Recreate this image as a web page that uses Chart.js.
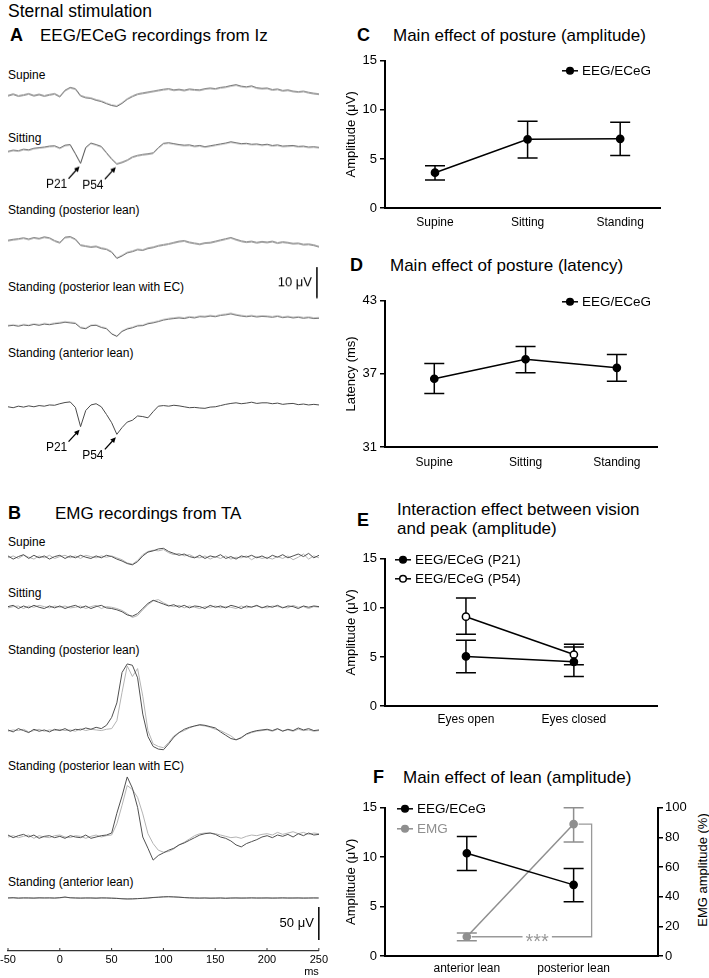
<!DOCTYPE html>
<html>
<head>
<meta charset="utf-8">
<title>Sternal stimulation</title>
<script src="https://cdn.jsdelivr.net/npm/chart.js@4.4.1/dist/chart.umd.min.js"></script>
<style>
  html, body { margin: 0; padding: 0; background: #fff; }
  body { position: relative; width: 709px; height: 978px; overflow: hidden;
         font-family: "Liberation Sans", Arial, sans-serif; color: #000; }
  .box { position: absolute; }
  .t { position: absolute; white-space: nowrap; line-height: 1; }
  .big { font-size: 17px; }
  .letter { font-size: 18px; font-weight: bold; }
  .lab { font-size: 12px; }
</style>
</head>
<body>
<div class="t" style="left:8px;top:3px;font-size:17.5px">Sternal stimulation</div>

<div class="t letter" style="left:10px;top:26px">A</div>
<div class="t big" style="left:40px;top:27px">EEG/ECeG recordings from Iz</div>
<div class="t lab" style="left:8px;top:69px">Supine</div>
<div class="t lab" style="left:8px;top:132px">Sitting</div>
<div class="t lab" style="left:8px;top:204px">Standing (posterior lean)</div>
<div class="t lab" style="left:8px;top:281px">Standing (posterior lean with EC)</div>
<div class="t lab" style="left:8px;top:347px">Standing (anterior lean)</div>

<div class="t letter" style="left:8px;top:504px">B</div>
<div class="t big" style="left:55px;top:505px">EMG recordings from TA</div>
<div class="t lab" style="left:8px;top:536px">Supine</div>
<div class="t lab" style="left:8px;top:587px">Sitting</div>
<div class="t lab" style="left:8px;top:644px">Standing (posterior lean)</div>
<div class="t lab" style="left:8px;top:760px">Standing (posterior lean with EC)</div>
<div class="t lab" style="left:8px;top:876px">Standing (anterior lean)</div>

<div class="t letter" style="left:357px;top:26px">C</div>
<div class="t big" style="left:393px;top:26.5px">Main effect of posture (amplitude)</div>
<div class="t letter" style="left:350px;top:256px">D</div>
<div class="t big" style="left:390px;top:256.5px">Main effect of posture (latency)</div>
<div class="t letter" style="left:357px;top:511px">E</div>
<div class="t big" style="left:397px;top:499.5px;line-height:19px">Interaction effect between vision<br>and peak (amplitude)</div>
<div class="t letter" style="left:373px;top:768px">F</div>
<div class="t big" style="left:403px;top:768.5px">Main effect of lean (amplitude)</div>
<div class="t" style="left:702px;top:870px;font-size:13px;transform:translate(-50%,-50%) rotate(-90deg)">EMG amplitude (%)</div>

<script>
// ---- trace data (A: EEG/ECeG at Iz, µV, positive plotted downward; B: EMG at TA, µV) ----
const traceTimes = [-50,-45,-40,-35,-30,-25,-20,-15,-10,-5,0,5,10,15,20,25,30,35,40,45,
  50,55,60,65,70,75,80,85,90,95,100,105,110,115,120,125,130,135,140,145,
  150,155,160,165,170,175,180,185,190,195,200,205,210,215,220,225,230,235,240,245,250];

const eegSupine = [0.2,-0.3,0.3,0,-0.4,0.2,-0.2,0.3,-0.1,-0.4,
  0.5,-1.5,-2.4,-2.0,0.2,0.8,1.0,1.6,2.0,2.7,
  3.3,3.6,2.6,1.3,0.4,-0.3,-0.6,-0.9,-1.2,-1.5,
  -1.8,-2.0,-1.6,-1.8,-1.5,-1.9,-1.7,-1.6,-2.0,-2.2,
  -2.0,-2.4,-2.6,-3.0,-3.3,-2.8,-2.6,-2.9,-2.3,-2.1,
  -2.2,-1.7,-1.9,-1.4,-1.6,-1.2,-1.0,-1.2,-0.8,-0.5,-0.3];
const eegSitting = [0.8,0.4,0.6,0.1,0.3,-0.2,-0.4,-0.6,-0.9,-1.0,
  -0.3,-1.2,-1.4,1.5,4.6,-0.5,-1.9,-1.4,-0.8,1.2,
  3.2,4.8,4.3,3.6,2.6,2.1,1.8,1.6,1.3,-0.4,
  -1.8,-2.0,-1.7,-1.4,-1.2,-1.3,-0.9,-1.1,-0.7,-1.0,
  -1.3,-1.6,-1.9,-2.3,-2.0,-1.7,-1.8,-1.5,-1.6,-1.3,
  -1.5,-1.1,-1.3,-0.9,-1.0,-1.1,-0.8,-0.9,-0.6,-0.7,-0.5];
const eegPosterior = [-0.5,-0.8,-1.0,-1.3,-0.9,-1.4,-1.1,-1.6,-1.3,-0.4,
  0.2,-1.5,-1.7,-0.9,1.0,1.3,1.6,1.4,2.0,2.3,
  3.2,5.2,4.4,3.4,3.0,2.4,2.6,2.0,1.7,1.2,
  0.9,0.6,0.2,-0.2,-0.4,0.1,0.4,0.7,0.3,0.2,
  -0.2,-0.6,-1.0,-1.4,-0.8,-0.3,0.0,-0.2,0.2,-0.1,
  0.1,-0.2,0.3,0.0,0.2,0.5,0.4,0.8,0.7,1.0,1.5];
const eegPosteriorEC = [0.4,0.2,0.5,0.1,0.3,-0.1,0.2,-0.2,0.0,-0.3,
  -0.5,-0.8,-0.6,-0.4,1.0,1.3,0.3,0.2,0.9,1.3,
  3.0,3.8,2.2,1.4,1.0,0.4,0.3,-0.3,-0.6,-1.0,
  -1.5,-1.8,-2.0,-2.2,-2.0,-2.4,-2.2,-2.6,-2.5,-2.8,
  -2.6,-3.0,-3.2,-3.5,-3.1,-2.8,-2.6,-2.8,-2.5,-2.7,
  -2.6,-2.4,-2.7,-2.3,-2.5,-2.2,-2.4,-2.1,-2.3,-2.0,-2.1];
const eegAnterior = [0.0,0.3,-0.2,0.1,-0.3,0.0,-0.4,-0.2,-0.6,-0.5,
  -1.0,-1.4,-1.6,0.2,6.5,1.2,-0.6,-1.0,0.0,2.5,
  5.2,9.0,6.8,5.0,4.4,3.0,3.2,3.6,1.6,-0.2,
  -0.4,-0.2,-0.5,-0.3,0.0,0.3,0.2,0.4,0.5,0.1,
  0.0,-0.4,-0.8,-1.1,-1.3,-1.0,-1.2,-1.5,-1.1,-1.3,
  -1.3,-1.0,-1.2,-0.8,-1.0,-1.1,-0.7,-0.9,-0.6,-0.8,-0.6];

const emgSupineA = [2,-3,1,4,-2,3,-1,2,-3,1, 3,-2,2,-1,3,0,-2,2,-1,3,
  1,-3,-6,-10,-12,-7,2,8,10,13, 14,9,6,3,5,1,-1,3,-2,2,
  0,4,-2,1,-3,2,0,3,-1,2, -2,3,0,4,-1,2,5,1,6,-1, 3];
const emgSupineB = [-1,2,-2,3,0,-3,2,-1,3,-2, 1,3,-1,2,-2,3,1,-1,2,0,
  2,-1,-4,-9,-11,-5,4,9,11,10, 12,7,4,6,2,4,0,-1,2,-3,
  1,-2,2,-3,0,-1,2,-4,1,-2, 0,-3,1,-2,2,-4,0,5,-3,2, -1];
const emgSittingA = [1,3,-2,2,-1,3,0,-2,2,-1, 2,-2,1,3,-1,2,-2,1,3,-1,
  -2,-4,-7,-12,-14,-10,-2,6,11,8, 5,2,4,0,3,-1,2,1,-2,3,
  0,2,-1,3,1,-2,2,0,3,-1, 2,0,3,-1,2,1,-2,2,0,2, 1];
const emgSittingB = [-1,1,2,-2,2,0,3,1,-1,2, 0,2,-1,0,2,-2,1,3,-2,1,
  0,-2,-5,-10,-16,-13,-4,4,10,12, 7,3,1,3,-1,2,0,-2,1,0,
  2,-1,1,0,-2,2,-1,1,2,0, -1,2,1,0,-1,3,0,1,-2,1, 0];
const emgPosteriorA = [1,-2,3,0,-3,2,-1,1,-2,2, 0,3,-1,2,1,4,2,5,3,8,
  20,42,88,101,99,80,25,-9,-24,-28, -29,-20,-10,-3,2,5,7,9,8,6,
  4,-2,-7,-12,-14,-11,-5,-2,0,1, 2,0,3,-1,2,0,4,1,3,0, 1];
const emgPosteriorB = [-1,1,0,2,-2,0,2,-1,1,0, 2,0,1,-1,3,0,2,1,0,2,
  3,15,58,98,82,94,52,0,-20,-24, -26,-18,-8,-3,0,4,7,8,7,5,
  2,0,-4,-8,-14,-10,-6,-3,-1,0, 1,-1,2,0,1,-1,2,0,1,-1, 0];
const emgPosteriorECA = [3,-1,2,4,0,3,-2,1,2,-1, 1,-2,2,0,-1,3,-2,0,2,3,
  6,36,62,91,74,45,0,-17,-35,-28, -24,-20,-17,-12,-9,-5,-1,3,5,6,
  4,0,-2,-6,-12,-15,-10,-7,-4,0, 2,-1,3,1,4,0,5,2,6,3, 4];
const emgPosteriorECB = [0,2,-1,1,3,-2,2,0,-1,2, 3,0,-1,2,1,-2,1,3,0,2,
  3,20,48,78,72,60,35,5,-10,-20, -23,-22,-18,-12,-8,-3,2,5,6,6,
  5,3,1,-1,0,-2,1,3,2,4, 5,3,7,4,6,8,5,7,4,6, 5];
const emgAnteriorA = [0,0.5,-0.3,0.2,0,-0.2,0.3,0,0.2,-0.2, 0.5,1.5,0.3,0,-0.2,0.1,0,-0.3,0.2,0,
  -0.3,-0.6,-1.2,-1.5,-1.3,-1.0,-0.5,0,0.8,1.2, 1.8,2.0,1.6,1.2,0.6,0.2,0,-0.2,0,-0.3,
  -0.2,0,-0.4,-0.1,0.1,-0.2,0,0.2,-0.1,0, 0.1,-0.2,0,0.2,-0.1,0,0.1,-0.2,0,0.1, 0];
const emgAnteriorB = [0.3,0,0.2,-0.2,0.3,0,-0.1,0.3,0,0.2, 0.2,1.0,0.5,0.2,0,-0.2,0.2,0,-0.1,0.2,
  0,-0.4,-0.9,-1.3,-1.4,-0.8,-0.6,-0.2,0.5,1.0, 1.5,1.8,1.8,1.4,0.8,0.4,0.1,0,0.2,-0.1,
  0,0.2,-0.2,0.1,0,0.2,-0.1,0,0.2,-0.1, 0,0.1,-0.1,0,0.2,-0.1,0,0.1,-0.1,0, 0.1];

// ---- summary data (C-F) ----
const postureLabels = ['Supine', 'Sitting', 'Standing'];
const ampMean = [3.6, 7.0, 7.05];
const ampLo = [2.85, 5.1, 5.35];
const ampHi = [4.3, 8.85, 8.75];

const latMean = [36.6, 38.2, 37.5];
const latLo = [35.4, 37.1, 36.4];
const latHi = [37.85, 39.25, 38.6];

const visionLabels = ['Eyes open', 'Eyes closed'];
const p21Mean = [5.05, 4.5];
const p21Lo = [3.4, 3.0];
const p21Hi = [6.7, 6.0];
const p54Mean = [9.1, 5.25];
const p54Lo = [7.3, 4.2];
const p54Hi = [11.0, 6.3];

const leanLabels = ['anterior lean', 'posterior lean'];
const eegLeanMean = [10.4, 7.2];
const eegLeanLo = [8.65, 5.5];
const eegLeanHi = [12.1, 8.85];
const emgLeanMean = [13, 89];
const emgLeanLo = [10.3, 77];
const emgLeanHi = [15.6, 100];

const FONT = '"Liberation Sans", Arial, sans-serif';
Chart.defaults.font.family = FONT;
Chart.defaults.color = '#000';
Chart.defaults.animation = false;

function makeCanvas(left, top, width, height) {
  const box = document.createElement('div');
  box.className = 'box';
  box.style.cssText = 'left:' + left + 'px;top:' + top + 'px;width:' + width + 'px;height:' + height + 'px';
  const c = document.createElement('canvas');
  box.appendChild(c);
  document.body.appendChild(box);
  return c;
}

// peak arrows, scale bars and inward time ticks on the traces
const traceMarks = {
  id: 'traceMarks',
  afterDatasetsDraw(chart, args, opts) {
    const ctx = chart.ctx, xs = chart.scales.x, ys = chart.scales.y;
    const meta = chart.getDatasetMeta(0);
    ctx.save();
    ctx.fillStyle = '#000';
    ctx.strokeStyle = '#000';
    (opts.peaks || []).forEach(p => {
      const pt = meta.data[traceTimes.indexOf(p.t)];
      const tipX = pt.x - 1, tipY = pt.y + 3;
      const tailX = tipX - 11, tailY = tipY + 12;
      const ang = Math.atan2(tipY - tailY, tipX - tailX);
      ctx.lineWidth = 1.3;
      ctx.beginPath();
      ctx.moveTo(tailX, tailY);
      ctx.lineTo(tipX - 3 * Math.cos(ang), tipY - 3 * Math.sin(ang));
      ctx.stroke();
      ctx.beginPath();
      ctx.moveTo(tipX, tipY);
      ctx.lineTo(tipX - 6 * Math.cos(ang - 0.45), tipY - 6 * Math.sin(ang - 0.45));
      ctx.lineTo(tipX - 6 * Math.cos(ang + 0.45), tipY - 6 * Math.sin(ang + 0.45));
      ctx.closePath();
      ctx.fill();
      ctx.font = '12px ' + FONT;
      ctx.textAlign = 'center';
      ctx.textBaseline = 'middle';
      ctx.fillText(p.label, tipX - 23, tipY + 18);
    });
    if (opts.bar) {
      const b = opts.bar;
      const x = xs.getPixelForValue(b.t);
      const y1 = ys.getPixelForValue(b.from), y2 = ys.getPixelForValue(b.from + b.size);
      ctx.lineWidth = 1.5;
      ctx.beginPath();
      ctx.moveTo(x, y1);
      ctx.lineTo(x, y2);
      ctx.stroke();
      ctx.font = '13px ' + FONT;
      ctx.textAlign = 'right';
      ctx.textBaseline = 'middle';
      ctx.fillText(b.text, x - 5, (y1 + y2) / 2);
    }
    if (opts.innerTicks && xs.options.display) {
      const yb = chart.chartArea.bottom;
      ctx.strokeStyle = '#333';
      ctx.lineWidth = 1;
      ctx.beginPath();
      xs.ticks.forEach(t => {
        const x = xs.getPixelForValue(t.value);
        ctx.moveTo(x, yb);
        ctx.lineTo(x, yb - 3);
      });
      ctx.stroke();
    }
    ctx.restore();
  }
};

const timeAxis = {
  type: 'linear', min: -50, max: 250,
  ticks: { stepSize: 50, font: { size: 11 }, padding: 2, maxRotation: 0, autoSkip: false, color: '#000' },
  grid: { display: false, drawTicks: false },
  border: { display: true, color: '#333', width: 1.3 },
  title: { display: true, text: 'ms', align: 'end', font: { size: 11 }, padding: 0, color: '#000' },
  afterFit: s => { s.height = 28; }
};

function traceChart(sets, cfg) {
  const ppu = cfg.ppu;
  const areaH = (cfg.max - cfg.min) * ppu;
  const top = cfg.reverse ? cfg.base + cfg.min * ppu : cfg.base - cfg.max * ppu;
  const canvas = makeCanvas(-6, top, 336, areaH + (cfg.axis ? 28 : 0));
  new Chart(canvas, {
    type: 'line',
    data: {
      datasets: sets.map(s => ({
        data: s.values.map((v, i) => ({ x: traceTimes[i], y: v })),
        borderColor: s.color, borderWidth: 1, pointRadius: 0, tension: 0
      }))
    },
    options: {
      responsive: true, maintainAspectRatio: false, animation: false, events: [],
      layout: { padding: { left: 14, right: 11, top: 0, bottom: 0 } },
      plugins: {
        legend: { display: false }, tooltip: { enabled: false },
        traceMarks: { peaks: cfg.peaks || [], bar: cfg.bar || null, innerTicks: !!cfg.axis }
      },
      scales: {
        x: cfg.axis ? timeAxis : { type: 'linear', min: -50, max: 250, display: false },
        y: { min: cfg.min, max: cfg.max, reverse: !!cfg.reverse, display: false }
      }
    },
    plugins: [traceMarks]
  });
}

const EEG_PPU = 3.1, EMG_PPU = 0.66;
const eegColor = '#4a4a4a', emgDark = '#505050', emgLight = '#b4b4b4';
const peaks = [{ t: 20, label: 'P21' }, { t: 55, label: 'P54' }];

traceChart([{ values: eegSupine, color: eegColor }], { base: 95, min: -6, max: 6, ppu: EEG_PPU, reverse: true });
traceChart([{ values: eegSitting, color: eegColor }], { base: 149, min: -6, max: 14.5, ppu: EEG_PPU, reverse: true, peaks: peaks });
traceChart([{ values: eegPosterior, color: eegColor }], { base: 242, min: -6, max: 8, ppu: EEG_PPU, reverse: true });
traceChart([{ values: eegPosteriorEC, color: eegColor }], { base: 324, min: -20, max: 6, ppu: EEG_PPU, reverse: true,
  bar: { t: 248, from: -18.5, size: 10, text: '10 μV' } });
traceChart([{ values: eegAnterior, color: eegColor }], { base: 406, min: -5, max: 19, ppu: EEG_PPU, reverse: true, peaks: peaks });

traceChart([{ values: emgSupineA, color: emgDark }, { values: emgSupineB, color: emgLight }], { base: 557, min: -20, max: 20, ppu: EMG_PPU });
traceChart([{ values: emgSittingA, color: emgDark }, { values: emgSittingB, color: emgLight }], { base: 607, min: -25, max: 20, ppu: EMG_PPU });
traceChart([{ values: emgPosteriorA, color: emgDark }, { values: emgPosteriorB, color: emgLight }], { base: 731, min: -40, max: 110, ppu: EMG_PPU });
traceChart([{ values: emgPosteriorECA, color: emgDark }, { values: emgPosteriorECB, color: emgLight }], { base: 837, min: -50, max: 100, ppu: EMG_PPU });
traceChart([{ values: emgAnteriorA, color: emgDark }, { values: emgAnteriorB, color: emgLight }], { base: 898, min: -80.3, max: 19.7, ppu: EMG_PPU,
  axis: true, bar: { t: 250, from: -63.6, size: 50, text: '50 μV' } });

// ---- C-F ----
const errorBars = {
  id: 'errorBars',
  beforeDatasetsDraw(chart) {
    const ctx = chart.ctx;
    chart.data.datasets.forEach((ds, i) => {
      if (!ds.errLo) return;
      const meta = chart.getDatasetMeta(i);
      const ys = chart.scales[meta.yAxisID];
      ctx.save();
      ctx.strokeStyle = ds.borderColor;
      ctx.lineWidth = 1.5;
      meta.data.forEach((pt, j) => {
        const x = pt.x, y1 = ys.getPixelForValue(ds.errLo[j]), y2 = ys.getPixelForValue(ds.errHi[j]);
        ctx.beginPath();
        ctx.moveTo(x, y1); ctx.lineTo(x, y2);
        ctx.moveTo(x - 10, y1); ctx.lineTo(x + 10, y1);
        ctx.moveTo(x - 10, y2); ctx.lineTo(x + 10, y2);
        ctx.stroke();
      });
      ctx.restore();
    });
  }
};

const innerLegend = {
  id: 'innerLegend',
  afterDatasetsDraw(chart, args, opts) {
    const { ctx, chartArea } = chart;
    const x0 = chartArea.left + opts.x;
    let y = chartArea.top + opts.y;
    ctx.save();
    chart.data.datasets.forEach(ds => {
      ctx.strokeStyle = ds.borderColor;
      ctx.lineWidth = 1.5;
      ctx.beginPath(); ctx.moveTo(x0 - 8, y); ctx.lineTo(x0 + 8, y); ctx.stroke();
      ctx.beginPath(); ctx.arc(x0, y, 3.3, 0, Math.PI * 2);
      ctx.fillStyle = ds.pointBackgroundColor; ctx.fill(); ctx.stroke();
      ctx.fillStyle = ds.borderColor;
      ctx.font = '13.5px ' + FONT;
      ctx.textAlign = 'left';
      ctx.textBaseline = 'middle';
      ctx.fillText(ds.label, x0 + 12, y + 0.5);
      y += opts.gap;
    });
    ctx.restore();
  }
};

const sigBracket = {
  id: 'sigBracket',
  afterDatasetsDraw(chart, args, opts) {
    if (!opts || opts.datasetIndex === undefined) return;
    const meta = chart.getDatasetMeta(opts.datasetIndex);
    const a = meta.data[0], b = meta.data[1];
    const ctx = chart.ctx;
    const xr = b.x + opts.arm;
    const mid = (a.x + xr) / 2 + 8;
    ctx.save();
    ctx.font = '20px ' + FONT;
    const w = ctx.measureText(opts.text).width;
    ctx.strokeStyle = opts.color;
    ctx.lineWidth = 1.3;
    ctx.beginPath();
    ctx.moveTo(a.x + 5, a.y); ctx.lineTo(mid - w / 2 - 3, a.y);
    ctx.moveTo(mid + w / 2 + 3, a.y); ctx.lineTo(xr, a.y); ctx.lineTo(xr, b.y); ctx.lineTo(b.x + 5, b.y);
    ctx.stroke();
    ctx.fillStyle = opts.color;
    ctx.textAlign = 'center';
    ctx.textBaseline = 'alphabetic';
    ctx.fillText(opts.text, mid, a.y + 11);
    ctx.restore();
  }
};

function series(label, means, lo, hi, color, fill, axis) {
  return {
    label, yAxisID: axis || 'y',
    data: means.map((v, i) => ({ x: i + 1, y: v })),
    errLo: lo, errHi: hi,
    borderColor: color, backgroundColor: fill,
    pointBackgroundColor: fill, pointBorderColor: color,
    pointRadius: 3.6, pointBorderWidth: 1.5, borderWidth: 1.5, tension: 0
  };
}

function leftAxis(min, max, step, title) {
  return {
    min, max, position: 'left',
    ticks: { stepSize: step, font: { size: 13 }, padding: 3, color: '#000' },
    grid: { drawOnChartArea: false, drawTicks: true, tickLength: 5, color: '#000', lineWidth: 1.5 },
    border: { display: true, color: '#000', width: 2 },
    title: { display: true, text: title, font: { size: 13 }, padding: { top: 4, bottom: 0 }, color: '#000' },
    afterFit: s => { s.width = 45; }
  };
}

function catAxis(labels, min, max, pad, height) {
  return {
    type: 'linear', min, max,
    afterBuildTicks: s => { s.ticks = labels.map((_, i) => ({ value: i + 1 })); },
    ticks: { callback: v => labels[Math.round(v) - 1], font: { size: 12 }, padding: pad,
             maxRotation: 0, autoSkip: false, color: '#000' },
    grid: { display: false, drawTicks: false },
    border: { display: true, color: '#000', width: 2 },
    afterFit: s => { s.height = height; }
  };
}

function pointChart(rect, datasets, scales, pluginOpts, extra) {
  const canvas = makeCanvas(rect[0], rect[1], rect[2], rect[3]);
  new Chart(canvas, {
    type: 'line',
    data: { datasets },
    options: {
      responsive: true, maintainAspectRatio: false, animation: false, events: [],
      layout: { padding: rect[4] },
      plugins: Object.assign({ legend: { display: false }, tooltip: { enabled: false } }, pluginOpts),
      scales
    },
    plugins: [errorBars, innerLegend].concat(extra || [])
  });
}

// C
pointChart([340, 50, 369, 190, { top: 10, right: 49, left: 0, bottom: 0 }],
  [series('EEG/ECeG', ampMean, ampLo, ampHi, '#000', '#000')],
  { x: catAxis(postureLabels, 0.46, 3.43, 7, 32), y: leftAxis(0, 15, 5, 'Amplitude (μV)') },
  { innerLegend: { x: 185, y: 10, gap: 20 } });

// D
pointChart([340, 290, 369, 189, { top: 10, right: 52, left: 0, bottom: 0 }],
  [series('EEG/ECeG', latMean, latLo, latHi, '#000', '#000')],
  { x: catAxis(postureLabels, 0.46, 3.44, 8, 32), y: leftAxis(31, 43, 6, 'Latency (ms)') },
  { innerLegend: { x: 185, y: 1, gap: 20 } });

// E
pointChart([340, 548, 369, 190, { top: 10, right: 52, left: 0, bottom: 0 }],
  [series('EEG/ECeG (P21)', p21Mean, p21Lo, p21Hi, '#000', '#000'),
   series('EEG/ECeG (P54)', p54Mean, p54Lo, p54Hi, '#000', '#fff')],
  { x: catAxis(visionLabels, 0.25, 2.77, 6, 32), y: leftAxis(0, 15, 5, 'Amplitude (μV)') },
  { innerLegend: { x: 18, y: 1, gap: 19 } });

// F
const fScales = {
  x: catAxis(leanLabels, 0.234, 2.79, 5, 22),
  y: leftAxis(0, 15, 5, 'Amplitude (μV)'),
  y1: {
    min: 0, max: 100, position: 'right',
    ticks: { stepSize: 20, font: { size: 13 }, padding: 2, color: '#000' },
    grid: { drawOnChartArea: false, drawTicks: true, tickLength: 5, color: '#000', lineWidth: 1.5 },
    border: { display: true, color: '#000', width: 2 },
    afterFit: s => { s.width = 51; }
  }
};
pointChart([340, 797, 369, 181, { top: 10, right: 0, left: 0, bottom: 0 }],
  [series('EEG/ECeG', eegLeanMean, eegLeanLo, eegLeanHi, '#000', '#000'),
   series('EMG', emgLeanMean, emgLeanLo, emgLeanHi, '#8f8f8f', '#8f8f8f', 'y1')],
  fScales,
  { innerLegend: { x: 20, y: 1, gap: 20 }, sigBracket: { datasetIndex: 1, arm: 18, text: '***', color: '#999' } },
  [sigBracket]);
</script>
</body>
</html>
